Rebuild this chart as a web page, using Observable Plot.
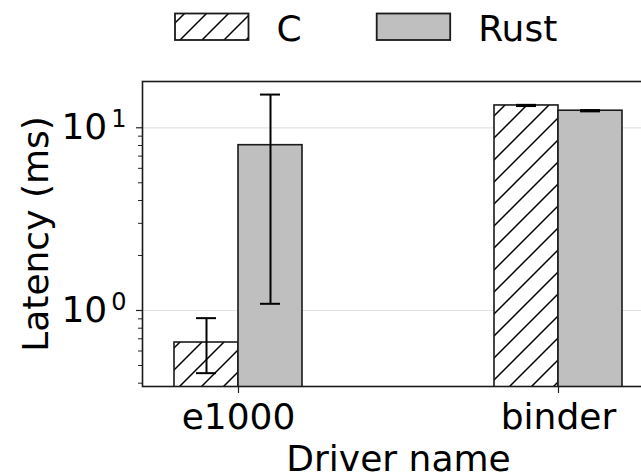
<!DOCTYPE html>
<html>
<head>
<meta charset="utf-8">
<script src="https://cdn.jsdelivr.net/npm/d3@7"></script>
<script src="https://cdn.jsdelivr.net/npm/@observablehq/plot@0.6"></script>
<style>
  html, body { margin: 0; padding: 0; background: #fff; overflow: hidden; }
  #wrap { width: 641px; height: 472px; overflow: hidden; position: relative; font-family: "DejaVu Sans", sans-serif; }
  #legend { display: block; }
  #chart svg { display: block; max-width: none !important; width: 660px; height: 412px; }
</style>
</head>
<body>
<div id="wrap">
  <svg id="legend" width="641" height="60" xmlns="http://www.w3.org/2000/svg"></svg>
  <div id="chart"></div>
</div>
<script>
// ---- data ----
const drivers = ["e1000", "binder"];
const series = ["C", "Rust"];
const cLatency = [0.668, 13.25];
const rustLatency = [8.03, 12.4];
const cLow = [0.454, 13.15];
const cHigh = [0.908, 13.35];
const rustLow = [1.088, 12.3];
const rustHigh = [15.2, 12.5];
const yMajorTicks = [1, 10];
const yTickBase = "10";
const yTickExponents = ["0", "1"];
const yMinorTicks = [0.4, 0.5, 0.6, 0.7, 0.8, 0.9, 2, 3, 4, 5, 6, 7, 8, 9];
const yDomain = [0.3837, 17.92];

// ---- table built from arrays ----
const cRows = drivers.map((d, i) => ({driver: d, lang: series[0], value: cLatency[i], low: cLow[i], high: cHigh[i]}));
const rustRows = drivers.map((d, i) => ({driver: d, lang: series[1], value: rustLatency[i], low: rustLow[i], high: rustHigh[i]}));

const FS = 36;
const hatchFill = "url(#hatch)";
const rustFill = "#bfbfbf";
const edge = "#1a1a1a";

// ---- legend (SVG above the plot) ----
const ns = "http://www.w3.org/2000/svg";
const legend = document.getElementById("legend");
legend.innerHTML = `
<defs>
  <pattern id="hatch" patternUnits="userSpaceOnUse" width="22" height="22">
    <rect width="22" height="22" fill="#fff"/>
    <path d="M-5.5,5.5 L5.5,-5.5 M0,22 L22,0 M16.5,27.5 L27.5,16.5" stroke="#000" stroke-width="1.5"/>
  </pattern>
</defs>`;
const legendItems = [
  {label: series[0], fill: hatchFill, x: 175},
  {label: series[1], fill: rustFill, x: 376.7}
];
for (const it of legendItems) {
  const r = document.createElementNS(ns, "rect");
  r.setAttribute("x", it.x); r.setAttribute("y", 13.5);
  r.setAttribute("width", 73.5); r.setAttribute("height", 26.5);
  r.setAttribute("fill", it.fill); r.setAttribute("stroke", edge); r.setAttribute("stroke-width", 1.8);
  legend.appendChild(r);
  const t = document.createElementNS(ns, "text");
  t.setAttribute("x", it.x + 73.5 + 28);
  t.setAttribute("y", 40.5);
  t.setAttribute("font-size", FS);
  t.setAttribute("font-family", "DejaVu Sans");
  t.setAttribute("fill", "#000");
  t.textContent = it.label;
  legend.appendChild(t);
}

// ---- plot ----
const half = 64;
const chart = Plot.plot({
  width: 660,
  height: 412,
  marginLeft: 142,
  marginRight: 6,
  marginTop: 21,
  marginBottom: 86,
  style: {fontFamily: "DejaVu Sans", fontSize: FS + "px", color: "#000", background: "#fff", overflow: "visible", maxWidth: "none"},
  x: {domain: drivers, paddingInner: 0.6, paddingOuter: 0.1},
  y: {type: "log", domain: yDomain},
  marks: [
    Plot.gridY(yMajorTicks, {stroke: "#e3e3e3", strokeOpacity: 1, strokeWidth: 1.2}),
    Plot.barY(cRows, {x: "driver", y1: yDomain[0] / 2, y2: "value", fill: hatchFill, stroke: edge, strokeWidth: 1.6, insetRight: half, clip: true}),
    Plot.barY(rustRows, {x: "driver", y1: yDomain[0] / 2, y2: "value", fill: rustFill, stroke: edge, strokeWidth: 1.6, insetLeft: half, clip: true}),
    Plot.ruleX(cRows, {x: "driver", y1: "low", y2: "high", dx: -32, stroke: "#000", strokeWidth: 2}),
    Plot.ruleX(rustRows, {x: "driver", y1: "low", y2: "high", dx: 32, stroke: "#000", strokeWidth: 2}),
    Plot.tickY(cRows, {x: "driver", y: "low", insetLeft: 22, insetRight: 86, stroke: "#000", strokeWidth: 2}),
    Plot.tickY(cRows, {x: "driver", y: "high", insetLeft: 22, insetRight: 86, stroke: "#000", strokeWidth: 2}),
    Plot.tickY(rustRows, {x: "driver", y: "low", insetLeft: 86, insetRight: 22, stroke: "#000", strokeWidth: 2}),
    Plot.tickY(rustRows, {x: "driver", y: "high", insetLeft: 86, insetRight: 22, stroke: "#000", strokeWidth: 2}),
    Plot.axisY(yMinorTicks, {tickSize: 4, tickFormat: () => "", label: null, stroke: "#222", strokeWidth: 1}),
    Plot.axisY(yMajorTicks, {
      tickSize: 6, tickPadding: 10, fontSize: FS,
      tickFormat: d => yTickBase + "^" + yTickExponents[yMajorTicks.indexOf(d)],
      label: "Latency (ms)", labelAnchor: "center", labelArrow: false, labelOffset: 120,
      stroke: "#222", strokeWidth: 1.2
    }),
    Plot.axisX({
      tickSize: 7, tickPadding: 10, fontSize: FS,
      label: "Driver name", labelAnchor: "center", labelArrow: false, labelOffset: 84,
      stroke: "#222", strokeWidth: 1.2
    }),
    Plot.frame({stroke: edge, strokeWidth: 1.6})
  ]
});
// render "10^k" tick labels with a real superscript
chart.querySelectorAll("text").forEach(t => {
  const m = /^(\d+)\^(\d+)$/.exec(t.textContent);
  if (!m) return;
  t.textContent = "";
  const b = document.createElementNS(ns, "tspan");
  b.textContent = m[1];
  const s = document.createElementNS(ns, "tspan");
  s.setAttribute("font-size", 24);
  s.setAttribute("dx", 4);
  s.setAttribute("dy", -12);
  s.textContent = m[2];
  t.appendChild(b); t.appendChild(s);
});
document.getElementById("chart").appendChild(chart);
</script>
</body>
</html>
